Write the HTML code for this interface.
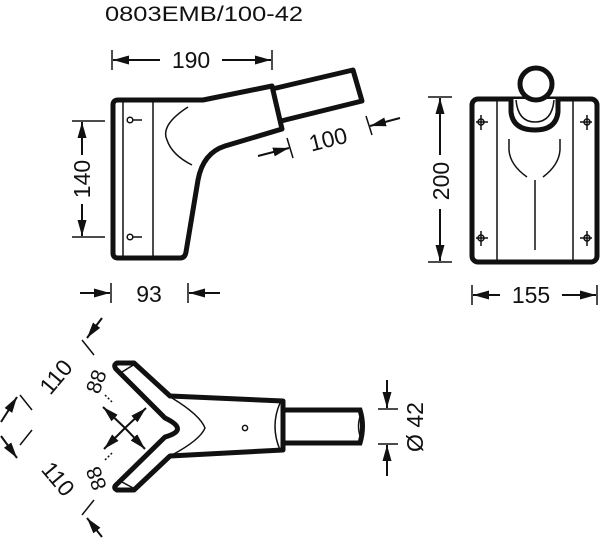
<!DOCTYPE html>
<html><head><meta charset="utf-8"><style>html,body{margin:0;padding:0;background:#fff}svg{display:block}text{font-family:"Liberation Sans",sans-serif;fill:#111}</style></head><body>
<svg width="600" height="538" viewBox="0 0 600 538" xmlns="http://www.w3.org/2000/svg">
<defs><marker id="a" viewBox="0 0 16 10" refX="16" refY="5" markerUnits="userSpaceOnUse" markerWidth="16" markerHeight="10" orient="auto-start-reverse"><path d="M0,0.5 L16,5 L0,9.5z" fill="#111"/></marker></defs>
<text x="105" y="21" font-size="21" textLength="198" lengthAdjust="spacingAndGlyphs">0803EMB/100-42</text>
<g stroke="#111" fill="none" stroke-width="1.5">
<line x1="112" y1="50" x2="112" y2="70"/><line x1="272" y1="50" x2="272" y2="70"/>
<line x1="113" y1="60" x2="160" y2="60" marker-start="url(#a)" stroke-width="2"/><line x1="222" y1="60" x2="271" y2="60" marker-end="url(#a)" stroke-width="2"/>
<line x1="72" y1="121" x2="105" y2="121"/><line x1="72" y1="237" x2="105" y2="237"/>
<line x1="82" y1="122" x2="82" y2="155" marker-start="url(#a)" stroke-width="2"/><line x1="82" y1="204" x2="82" y2="236" marker-end="url(#a)" stroke-width="2"/>
<line x1="111" y1="283" x2="111" y2="303"/><line x1="188" y1="283" x2="188" y2="303"/>
<line x1="80" y1="293" x2="110" y2="293" marker-end="url(#a)" stroke-width="2"/><line x1="220" y1="293" x2="189" y2="293" marker-end="url(#a)" stroke-width="2"/>
<line x1="287" y1="138" x2="293" y2="158"/><line x1="366" y1="116" x2="372" y2="135"/>
<line x1="258" y1="156" x2="289" y2="148" marker-end="url(#a)" stroke-width="2"/><line x1="400" y1="118" x2="370" y2="126" marker-end="url(#a)" stroke-width="2"/>
<path d="M118,100 L203,100 L272,86 L282,129 L225,146 Q203,153 198,180 L186,252 Q185,258 180,258 L118,258 Q113,258 113,253 L113,105 Q113,100 118,100Z" stroke-width="5" stroke-linejoin="round"/>
<path d="M272,89 L353,70 L362,101 L281,121" stroke-width="5" stroke-linejoin="round"/>
<line x1="123" y1="101" x2="123" y2="257"/><line x1="153" y1="101" x2="153" y2="257"/>
<circle cx="130" cy="120" r="2.8"/><line x1="133" y1="120" x2="142" y2="120"/>
<circle cx="130" cy="237" r="2.8"/><line x1="133" y1="237" x2="142" y2="237"/>
<path d="M188,107 Q160,125 167,140 Q172,155 192,165"/>
<line x1="428" y1="97" x2="452" y2="97"/><line x1="428" y1="262" x2="452" y2="262"/>
<line x1="440" y1="98" x2="440" y2="155" marker-start="url(#a)" stroke-width="2"/><line x1="440" y1="209" x2="440" y2="261" marker-end="url(#a)" stroke-width="2"/>
<rect x="472" y="99" width="125" height="163" rx="6" stroke-width="5"/>
<line x1="497" y1="101" x2="497" y2="260"/><line x1="573" y1="101" x2="573" y2="260"/>
<path d="M511,99 L511,112 Q513,130 535,130 Q556,130 558,112 L558,99" stroke-width="5" fill="#fff"/>
<path d="M516,100 Q518,122 535,122 Q552,122 554,100"/>
<circle cx="536" cy="84" r="16" stroke-width="5" fill="#fff"/>
<path d="M509,139 L509,150 Q510,165 527,177 M560,139 L560,150 Q559,165 543,177 M535,180 L535,250"/>
<g><circle cx="481" cy="122" r="3"/><line x1="481" y1="115" x2="481" y2="130"/><line x1="476" y1="122" x2="488" y2="122"/>
<circle cx="481" cy="238" r="3"/><line x1="481" y1="231" x2="481" y2="246"/><line x1="476" y1="238" x2="488" y2="238"/>
<circle cx="587" cy="122" r="3"/><line x1="587" y1="115" x2="587" y2="130"/><line x1="580" y1="122" x2="592" y2="122"/>
<circle cx="587" cy="238" r="3"/><line x1="587" y1="231" x2="587" y2="246"/><line x1="580" y1="238" x2="592" y2="238"/></g>
<line x1="472" y1="285" x2="472" y2="305"/><line x1="597" y1="285" x2="597" y2="305"/>
<line x1="473" y1="295" x2="500" y2="295" marker-start="url(#a)" stroke-width="2"/><line x1="562" y1="295" x2="596" y2="295" marker-end="url(#a)" stroke-width="2"/>
<path d="M117,363 L134,363 L170,396 L283,401 L283,450 L170,456 L134,490 L117,490 Q113,488 116,485 L165,437 Q190,430 165,418 L116,369 Q113,365 117,363Z" stroke-width="5" stroke-linejoin="round"/>
<path d="M283,410 L360,410 Q365,426 360,443 L283,443" stroke-width="5"/>
<path d="M280,403 Q270,426 280,450 M362,412 Q355,426 362,441"/>
<path d="M172,398 Q200,415 205,428 Q200,440 172,455"/>
<line x1="122" y1="372" x2="135" y2="364"/><line x1="122" y1="482" x2="135" y2="489"/>
<circle cx="245" cy="428" r="2.6"/>
<line x1="125" y1="428" x2="103" y2="407" marker-end="url(#a)" stroke-width="2"/><line x1="125" y1="428" x2="145" y2="449" marker-end="url(#a)" stroke-width="2"/>
<line x1="125" y1="428" x2="146" y2="408" marker-end="url(#a)" stroke-width="2"/><line x1="125" y1="428" x2="104" y2="449" marker-end="url(#a)" stroke-width="2"/>
<line x1="105" y1="395" x2="112" y2="402" stroke-dasharray="2,2"/><line x1="105" y1="460" x2="112" y2="453" stroke-dasharray="2,2"/>
<line x1="82" y1="340" x2="94" y2="355"/><line x1="20" y1="395" x2="32" y2="410"/>
<line x1="102" y1="318" x2="87" y2="338" marker-end="url(#a)" stroke-width="2"/><line x1="1" y1="422" x2="17" y2="397" marker-end="url(#a)" stroke-width="2"/>
<line x1="20" y1="445" x2="32" y2="430"/><line x1="82" y1="515" x2="94" y2="500"/>
<line x1="1" y1="436" x2="17" y2="458" marker-end="url(#a)" stroke-width="2"/><line x1="102" y1="537" x2="87" y2="518" marker-end="url(#a)" stroke-width="2"/>
<line x1="378" y1="409" x2="398" y2="409"/><line x1="378" y1="444" x2="398" y2="444"/>
<line x1="387" y1="380" x2="387" y2="408" marker-end="url(#a)" stroke-width="2"/><line x1="387" y1="476" x2="387" y2="445" marker-end="url(#a)" stroke-width="2"/>
</g>
<g font-size="23">
<text x="191" y="68" text-anchor="middle">190</text>
<text transform="translate(90,179) rotate(-90)" text-anchor="middle">140</text>
<text x="149" y="302" text-anchor="middle">93</text>
<text transform="translate(330,147) rotate(-14)" text-anchor="middle">100</text>
<text transform="translate(449,181) rotate(-90)" text-anchor="middle">200</text>
<text x="531" y="303" text-anchor="middle">155</text>
<text transform="translate(62,382) rotate(-50)" text-anchor="middle">110</text>
<text transform="translate(52,484) rotate(50)" text-anchor="middle">110</text>
<text transform="translate(103,384) rotate(-70)" text-anchor="middle" font-size="21">88</text>
<text transform="translate(103,476) rotate(-110)" text-anchor="middle" font-size="21">88</text>
<text transform="translate(423,427) rotate(-90)" text-anchor="middle">Ø 42</text>
</g>
</svg>
</body></html>
